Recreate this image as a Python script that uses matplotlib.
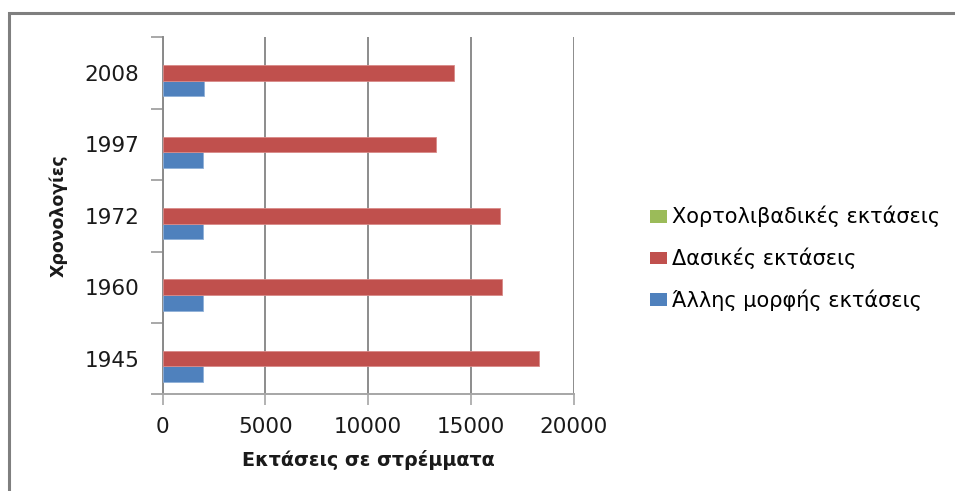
import numpy as np
import matplotlib
matplotlib.use("Agg")
import matplotlib.pyplot as plt
from matplotlib.patches import Rectangle, Patch

plt.rcParams['font.family'] = ['DejaVu Sans']

years = ["1945", "1960", "1972", "1997", "2008"]
other_land = [1950, 1950, 1950, 1950, 2000]        # Άλλης μορφής εκτάσεις
forest_land = [18300, 16500, 16400, 13300, 14200]  # Δασικές εκτάσεις
grass_land = [0, 0, 0, 0, 0]                       # Χορτολιβαδικές εκτάσεις

c_green = "#9BBB59"
c_red = "#C0504D"
c_blue = "#4F81BD"
grid_c = "#8c8c8c"

fig = plt.figure(figsize=(9.55, 4.91), dpi=100)
ax = fig.add_axes([0.1704, 0.1969, 0.4303, 0.7271])

y = np.arange(len(years))
h = 0.218
ax.barh(y - h, other_land, height=h, color=c_blue, edgecolor="#8fb0d8", linewidth=0.6, zorder=3)
ax.barh(y, forest_land, height=h, color=c_red, edgecolor="#d98a88", linewidth=0.6, zorder=3)
ax.barh(y + h, grass_land, height=h, color=c_green, linewidth=0, zorder=3)

ax.set_xlim(0, 20000)
ax.set_ylim(-0.5, len(years) - 0.5)
ax.set_xticks([0, 5000, 10000, 15000, 20000])
ax.xaxis.grid(True, color=grid_c, linewidth=1.4, zorder=0)
ax.set_axisbelow(True)

# category labels sit between the boundary tick marks
ax.set_yticks(np.arange(-0.5, len(years), 1.0))
ax.set_yticklabels([])
ax.set_yticks(y, minor=True)
ax.set_yticklabels(years, minor=True)
ax.tick_params(axis="y", which="major", length=9, width=1.2, color="#9a9a9a", direction="out")
ax.tick_params(axis="y", which="minor", length=0, pad=17, labelsize=15.5, labelcolor="#1a1a1a")
ax.tick_params(axis="x", length=8, width=1.2, color="#a6a6a6", direction="out", pad=8,
               labelsize=15.5, labelcolor="#1a1a1a")

for side in ("top", "right"):
    ax.spines[side].set_visible(False)
ax.spines["left"].set_color("#8a8a8a")
ax.spines["left"].set_linewidth(1.4)
ax.spines["bottom"].set_color("#a6a6a6")
ax.spines["bottom"].set_linewidth(1.4)

ax.set_xlabel("Εκτάσεις σε στρέμματα", fontsize=13.8, fontweight="bold", labelpad=10, color="#1a1a1a")
ax.set_ylabel("Χρονολογίες", fontsize=12.5, fontweight="bold", labelpad=12, color="#1a1a1a")

handles = [Patch(facecolor=c_green), Patch(facecolor=c_red), Patch(facecolor=c_blue)]
labels = ["Χορτολιβαδικές εκτάσεις", "Δασικές εκτάσεις", "Άλλης μορφής εκτάσεις"]
fig.legend(handles, labels, loc="center left", bbox_to_anchor=(0.6806, 0.4733),
           frameon=False, fontsize=15, handlelength=0.82, handleheight=0.58,
           handletextpad=0.25, labelspacing=0.98, borderaxespad=0, borderpad=0)

# chart area border
fig.patches.append(Rectangle((9 / 955, -0.05), 1.1, 1.05 - 13 / 491, transform=fig.transFigure,
                             fill=False, edgecolor="#7f7f7f", linewidth=2.2))

fig.savefig("out.png", dpi=100)
